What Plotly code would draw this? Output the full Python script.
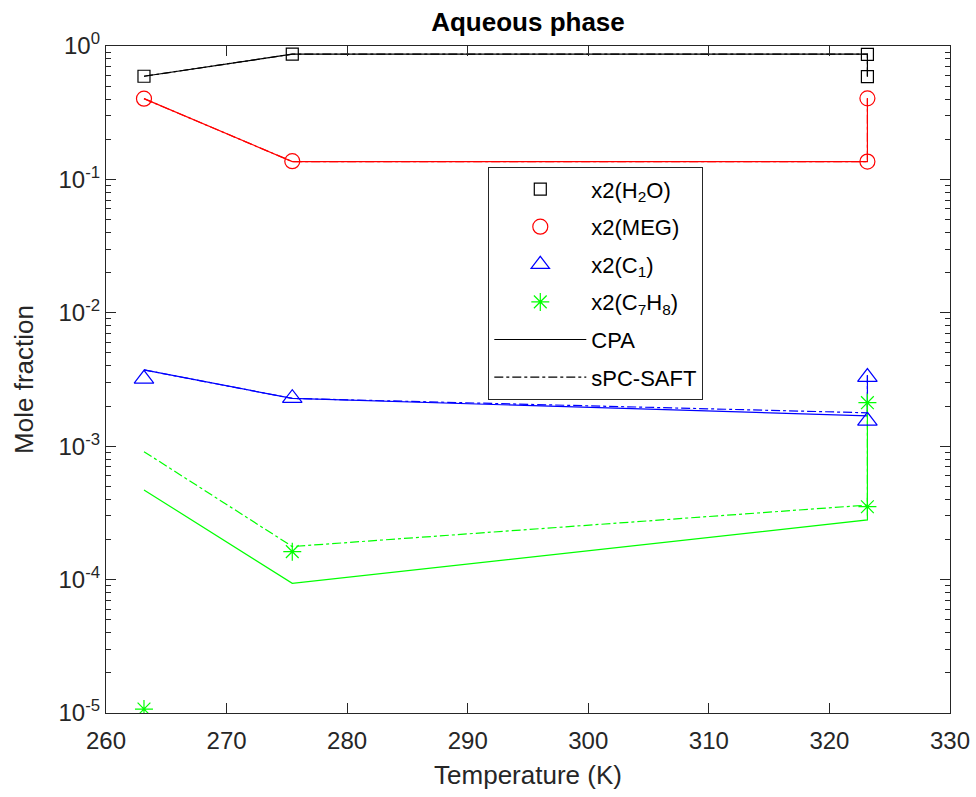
import plotly.graph_objects as go

# ---- data ----
T = [263.15, 275.45, 323.15, 323.15]

h2o_exp = [0.593, 0.868, 0.866, 0.589]
meg_exp = [0.403, 0.137, 0.405, 0.136]
c1_exp = [3.2e-3, 2.29e-3, 3.3e-3, 1.55e-3]
c7h8_exp = [1.07e-5, 1.62e-4, 2.12e-3, 3.52e-4]

h2o_cpa = [0.593, 0.868, 0.868, 0.589]
h2o_saft = [0.593, 0.868, 0.868, 0.589]
meg_cpa = [0.403, 0.136, 0.136, 0.405]
meg_saft = [0.403, 0.136, 0.136, 0.405]
c1_cpa = [3.73e-3, 2.28e-3, 1.69e-3, 3.4e-3]
c1_saft = [3.73e-3, 2.28e-3, 1.78e-3, 3.4e-3]
c7h8_cpa = [4.70e-4, 9.38e-5, 2.80e-4, 2.12e-3]
c7h8_saft = [9.1e-4, 1.77e-4, 3.62e-4, 2.12e-3]

x_ticks = [260, 270, 280, 290, 300, 310, 320, 330]
y_ticks = [1e-5, 1e-4, 1e-3, 1e-2, 1e-1, 1e0]
y_ticktext = ["10<sup>-5</sup>", "10<sup>-4</sup>", "10<sup>-3</sup>",
              "10<sup>-2</sup>", "10<sup>-1</sup>", "10<sup>0</sup>"]
y_minor = [m * 10.0 ** e for e in range(-5, 0) for m in range(2, 10)]

FONT = "Liberation Sans, Arial, Helvetica, sans-serif"
AX = "#262626"

fig = go.Figure()

species = [
    ("x2(H<sub>2</sub>O)", "#000000", h2o_exp, h2o_cpa, h2o_saft, "square-open", 12),
    ("x2(MEG)", "#ff0000", meg_exp, meg_cpa, meg_saft, "circle-open", 15),
    ("x2(C<sub>1</sub>)", "#0000ff", c1_exp, c1_cpa, c1_saft, "triangle-up-open", 17),
    ("x2(C<sub>7</sub>H<sub>8</sub>)", "#00ff00", c7h8_exp, c7h8_cpa, c7h8_saft, "asterisk-open", 15),
]

# model lines first (no legend)
for name, col, exp, cpa, saft, sym, sz in species:
    fig.add_trace(go.Scatter(x=T, y=cpa, mode="lines", line=dict(color=col, width=1.2),
                             showlegend=False, hoverinfo="skip"))
    fig.add_trace(go.Scatter(x=T, y=saft, mode="lines",
                             line=dict(color=col, width=1.2, dash="dashdot"),
                             showlegend=False, hoverinfo="skip"))

for i, (name, col, exp, cpa, saft, sym, sz) in enumerate(species):
    fig.add_trace(go.Scatter(x=T, y=exp, mode="markers", name=name, legendgroup=f"g{i}",
                             marker=dict(symbol=sym, size=sz, color=col,
                                         line=dict(color=col, width=1.2))))

# legend-only line entries
fig.add_trace(go.Scatter(x=[None], y=[None], mode="lines", name="CPA", legendgroup="g4",
                         line=dict(color="#000000", width=1.2)))
fig.add_trace(go.Scatter(x=[None], y=[None], mode="lines", name="sPC-SAFT", legendgroup="g5",
                         line=dict(color="#000000", width=1.2, dash="dashdot")))

fig.update_layout(
    width=976, height=797,
    paper_bgcolor="white", plot_bgcolor="white",
    margin=dict(l=106, r=26, t=46, b=84, autoexpand=False),
    font=dict(family=FONT, size=24, color=AX),
    title=dict(text="<b>Aqueous phase</b>", x=(528 / 976), xanchor="center",
               y=1 - 22 / 797, yanchor="middle", yref="container",
               font=dict(family=FONT, size=26, color="#000000")),
    showlegend=True,
    legend=dict(x=0.4526, y=0.8186, xanchor="left", yanchor="top",
                bgcolor="white", bordercolor=AX, borderwidth=1.3,
                font=dict(family=FONT, size=22, color="#000000"),
                itemwidth=92, traceorder="grouped", tracegroupgap=6),
)

fig.update_xaxes(
    range=[260, 330], tickmode="array", tickvals=x_ticks,
    ticks="inside", ticklen=10, tickwidth=1.3, tickcolor=AX,
    showline=True, linecolor=AX, linewidth=1.3, mirror="ticks",
    showgrid=False, zeroline=False, automargin=False, ticklabelstandoff=6,
    tickfont=dict(family=FONT, size=24, color=AX),
    title=dict(text="Temperature (K)", font=dict(family=FONT, size=26, color=AX), standoff=12),
)
fig.update_yaxes(
    type="log", range=[-5, 0], tickmode="array", tickvals=y_ticks, ticktext=y_ticktext,
    ticks="inside", ticklen=10, tickwidth=1.3, tickcolor=AX,
    minor=dict(tickmode="array", tickvals=y_minor, ticks="inside", ticklen=5,
               tickwidth=1.3, tickcolor=AX, showgrid=False),
    showline=True, linecolor=AX, linewidth=1.3, mirror="ticks",
    showgrid=False, zeroline=False, automargin=False,
    tickfont=dict(family=FONT, size=24, color=AX),
    title=dict(text="Mole fraction", font=dict(family=FONT, size=26, color=AX), standoff=17),
)

fig.write_html("out.html", config={"displayModeBar": False},
               post_script="document.body.style.margin='0';document.body.style.overflow='hidden';")
